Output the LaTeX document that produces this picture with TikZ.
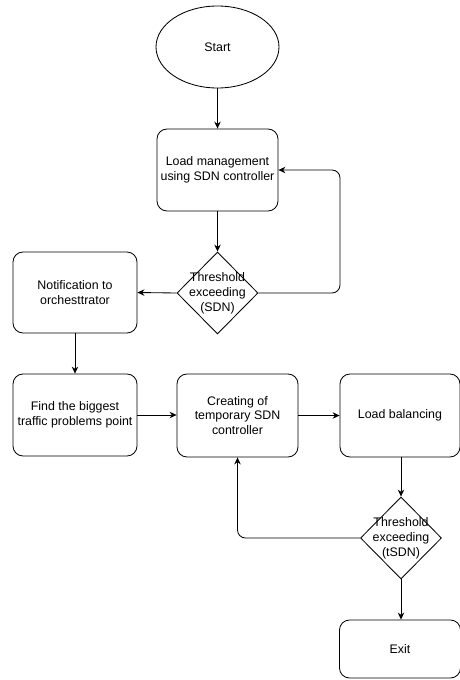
\documentclass[tikz,border=0pt]{standalone}
\usepackage{fontspec}
\setmainfont{Liberation Sans}
\usetikzlibrary{shapes.geometric,arrows.meta}

\begin{document}
\begin{tikzpicture}[x=1pt,y=-1pt,
  every node/.style={font=\fontsize{12.4}{14.8}\selectfont, align=center, inner sep=0pt},
  stepbox/.style={draw, rounded corners=10pt, line width=0.85pt, minimum width=121pt, minimum height=82pt},
  startnode/.style={draw, ellipse, line width=0.85pt, minimum width=123pt, minimum height=82pt},
  decision/.style={draw, diamond, line width=0.85pt, minimum width=81pt, minimum height=82pt},
  flow/.style={line width=0.85pt, -{Stealth[length=7pt,width=6.5pt]}},
  loopflow/.style={flow, rounded corners=8pt},
]
\useasboundingbox (0,0) rectangle (459,680);

% main column
\node[startnode] (start) at (217.5,47) {Start};
\node[stepbox] (manage) at (217.5,170) {Load management\\using SDN controller};
\node[decision] (check1) at (217.5,293) {};
\node (check1text) at (217.5,293) {Threshold\\exceeding\\(SDN)};

% left column
\node[stepbox, minimum width=124pt, minimum height=81pt] (notify) at (75,292.5) {Notification to\\orchesttrator};
\node[stepbox, minimum width=124pt] (find) at (75,415) {Find the biggest\\traffic problems point};

% bottom row
\node[stepbox, minimum height=83pt] (create) at (237.5,415.5) {Creating of\\temporary SDN\\controller};
\node[stepbox, minimum width=120pt, minimum height=83pt] (balance) at (400,415.5) {Load balancing};
\node[decision] (check2) at (401,538) {};
\node (check2text) at (401,538) {Threshold\\exceeding\\(tSDN)};
\node[stepbox, minimum height=58pt] (exit) at (400,649) {Exit};

% loop-back corners
\coordinate (loopA) at (340,170);

% connectors
\draw[flow] (start) -- (manage);
\draw[flow] (manage) -- (check1);
\draw[flow] (check1.west) -- (notify.east);
\draw[loopflow] (check1.east) -| (loopA) -- (manage.east);
\draw[flow] (notify) -- (find);
\draw[flow] (find.east) -- (find.east -| create.west);
\draw[flow] (create.east) -- (create.east -| balance.west);
\draw[flow] (balance.south -| check2.north) -- (check2.north);
\draw[loopflow] (check2.west) -| (create.south);
\draw[flow] (check2.south) -- (exit.north -| check2.south);
\end{tikzpicture}
\end{document}
